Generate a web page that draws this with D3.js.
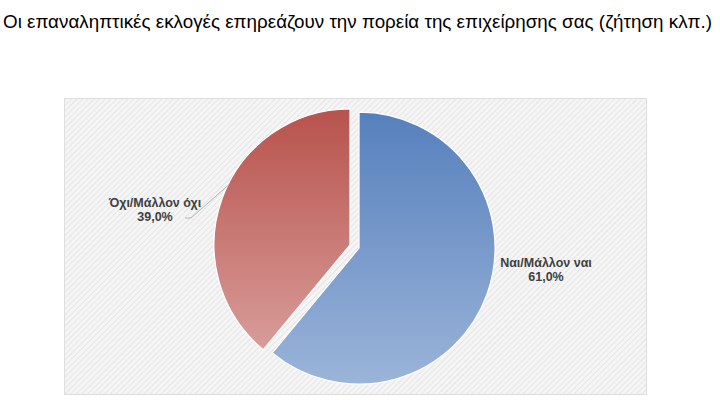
<!DOCTYPE html>
<html>
<head>
<meta charset="utf-8">
<script src="https://cdn.jsdelivr.net/npm/d3@7"></script>
<style>
    body { margin: 0; background: #fff; }
    svg { display: block; }
</style>
</head>
<body>
<svg id="chart"></svg>
<script>
const TITLE = "Οι επαναληπτικές εκλογές επηρεάζουν την πορεία της επιχείρησης σας (ζήτηση κλπ.)";
const categories = ["Ναι/Μάλλον ναι", "Όχι/Μάλλον όχι"];
const values = [61.0, 39.0];
const valueLabels = ["61,0%", "39,0%"];

const width = 720;
const height = 405;

const svg = d3.select('#chart')
    .attr('width', width)
    .attr('height', height);

const defs = svg.append('defs');

// Hatched plot background
const hatch = defs.append('pattern')
    .attr('id', 'hatch')
    .attr('patternUnits', 'userSpaceOnUse')
    .attr('width', 4)
    .attr('height', 4)
    .attr('patternTransform', 'rotate(45)');
hatch.append('rect').attr('width', 4).attr('height', 4).attr('fill', '#f5f5f5');
hatch.append('line')
    .attr('x1', 0).attr('y1', 0).attr('x2', 0).attr('y2', 4)
    .attr('stroke', '#e2e2e2')
    .attr('stroke-width', 1.6);

// Slice gradients (top dark, bottom light)
const gradients = [
    { id: 'gBlue', top: '#5680bd', bottom: '#9bb4d9' },
    { id: 'gRed', top: '#b8524c', bottom: '#d89c99' }
];
gradients.forEach(gr => {
    const lg = defs.append('linearGradient')
        .attr('id', gr.id)
        .attr('x1', 0).attr('y1', 0).attr('x2', 0).attr('y2', 1);
    lg.append('stop').attr('offset', '0%').attr('stop-color', gr.top);
    lg.append('stop').attr('offset', '100%').attr('stop-color', gr.bottom);
});

// Title
svg.append('text')
    .attr('x', 3)
    .attr('y', 28)
    .attr('textLength', 709)
    .attr('lengthAdjust', 'spacingAndGlyphs')
    .style('font-family', 'Liberation Sans, Arial, sans-serif')
    .style('font-size', '18.8px')
    .style('fill', '#000')
    .text(TITLE);

// Plot area
svg.append('rect')
    .attr('x', 64.5)
    .attr('y', 98.5)
    .attr('width', 582)
    .attr('height', 296)
    .attr('fill', 'url(#hatch)')
    .attr('stroke', '#dedede')
    .attr('stroke-width', 1);

const cx = 354.5;
const cy = 246.5;
const radius = 136;
const explode = 4.8;

const pie = d3.pie().sort(null).value(d => d)(values);
const arc = d3.arc().innerRadius(0).outerRadius(radius);

const g = svg.append('g').attr('transform', `translate(${cx},${cy})`);

g.selectAll('path')
    .data(pie)
    .enter().append('path')
    .attr('transform', d => {
        const mid = (d.startAngle + d.endAngle) / 2;
        return `translate(${Math.sin(mid) * explode},${-Math.cos(mid) * explode})`;
    })
    .attr('d', arc)
    .attr('fill', (d, i) => `url(#${gradients[i].id})`)
    .attr('stroke', '#fff')
    .attr('stroke-width', 1.2);

// Labels
const labelPos = [
    { x: 546, y: 262 },
    { x: 155, y: 202 }
];

const labels = svg.append('g')
    .style('font-family', 'Liberation Sans, Arial, sans-serif')
    .style('font-size', '12.5px')
    .style('font-weight', 'bold')
    .style('fill', '#404040')
    .attr('text-anchor', 'middle');

categories.forEach((c, i) => {
    const t = labels.append('text')
        .attr('x', labelPos[i].x)
        .attr('y', labelPos[i].y + 4.5);
    t.append('tspan').attr('x', labelPos[i].x).text(c);
    t.append('tspan').attr('x', labelPos[i].x).attr('dy', 14).text(valueLabels[i]);
});

// Leader line for the red slice
const redMid = (pie[1].startAngle + pie[1].endAngle) / 2;
const edgeAngle = redMid + 0.12;
const ex = cx + Math.sin(redMid) * explode + Math.sin(edgeAngle) * (radius - 1);
const ey = cy - Math.cos(redMid) * explode - Math.cos(edgeAngle) * (radius - 1);
svg.append('polyline')
    .attr('points', `185,218 191,218 ${ex},${ey}`)
    .attr('fill', 'none')
    .attr('stroke', '#a6a6a6')
    .attr('stroke-width', 0.8);
</script>
</body>
</html>
